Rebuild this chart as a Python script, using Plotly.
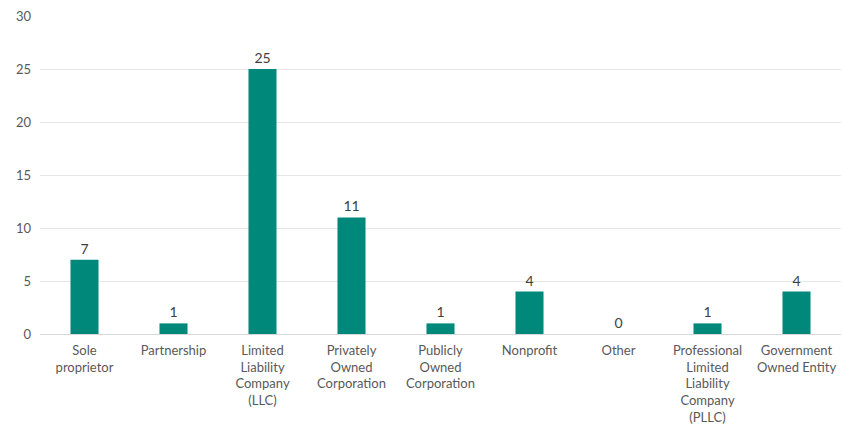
import plotly.graph_objects as go

categories = [
    "Sole<br>proprietor",
    "Partnership",
    "Limited<br>Liability<br>Company<br>(LLC)",
    "Privately<br>Owned<br>Corporation",
    "Publicly<br>Owned<br>Corporation",
    "Nonprofit",
    "Other",
    "Professional<br>Limited<br>Liability<br>Company<br>(PLLC)",
    "Government<br>Owned Entity",
]
values = [7, 1, 25, 11, 1, 4, 0, 1, 4]
y_ticks = [0, 5, 10, 15, 20, 25, 30]

FONT = "Lato, Open Sans, sans-serif"
GRAY = "#595959"

fig = go.Figure(
    go.Bar(
        x=categories,
        y=values,
        marker=dict(color="#00897B", line=dict(width=0)),
        text=[str(v) for v in values],
        textposition="outside",
        textfont=dict(size=14, color="#404040", family=FONT),
        cliponaxis=False,
    )
)

fig.update_layout(
    width=844,
    height=432,
    margin=dict(l=40, r=3, t=16, b=98),
    paper_bgcolor="white",
    plot_bgcolor="white",
    bargap=0.685,
    showlegend=False,
    font=dict(family=FONT, size=13, color=GRAY),
)
fig.update_xaxes(
    showgrid=False,
    showline=True,
    linecolor="#d9d9d9",
    linewidth=1,
    ticks="",
    tickfont=dict(size=13, color=GRAY, family=FONT),
    tickangle=0,
    ticklabelstandoff=4,
)
fig.update_yaxes(
    range=[0, 30],
    tickvals=y_ticks,
    showgrid=True,
    gridcolor="#e6e6e6",
    gridwidth=1,
    zeroline=False,
    showline=False,
    ticks="",
    tickfont=dict(size=13, color=GRAY, family=FONT),
    ticklabelstandoff=8,
)

fig.write_html("out.html")
